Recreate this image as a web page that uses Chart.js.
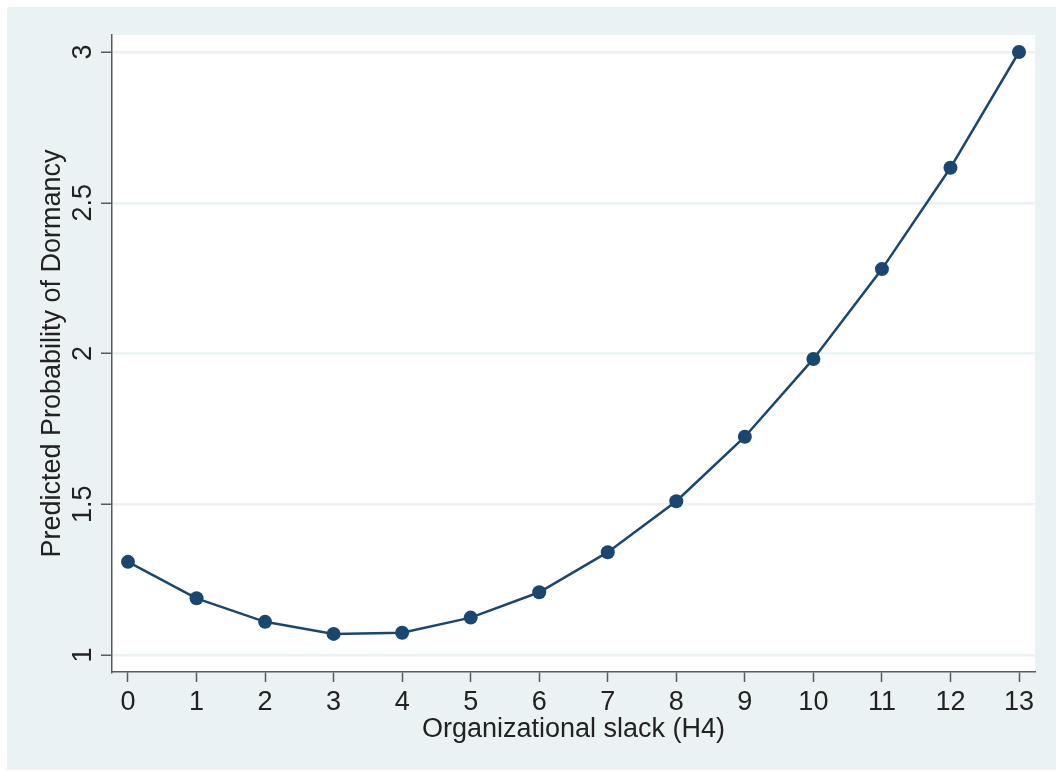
<!DOCTYPE html>
<html>
<head>
<meta charset="utf-8">
<script src="https://cdn.jsdelivr.net/npm/chart.js@4/dist/chart.umd.min.js"></script>
<style>
  html, body { margin: 0; padding: 0; background: #fff; }
  canvas { display: block; }
</style>
</head>
<body>
<canvas id="slackChart" width="1056" height="771"></canvas>
<script>
// values
const slack = [0, 1, 2, 3, 4, 5, 6, 7, 8, 9, 10, 11, 12, 13];
const dormancy = [1.309, 1.188, 1.110, 1.070, 1.074, 1.124, 1.208, 1.341, 1.510, 1.724, 1.982, 2.280, 2.616, 3.0];
const yTickValues = [1, 1.5, 2, 2.5, 3];
const yTickLabels = ['1', '1.5', '2', '2.5', '3'];

const navy = '#1A476F';
const bluishGray = '#EAF2F3';
const axisGray = '#5a5a5a';
const textColor = '#222222';
const fontFamily = '"Liberation Sans", Arial, sans-serif';

// backgrounds: graph region + white plot region
const backgrounds = {
  id: 'backgrounds',
  beforeDraw(chart) {
    const ctx = chart.ctx;
    const a = chart.chartArea;
    ctx.save();
    ctx.fillStyle = '#ffffff';
    ctx.fillRect(0, 0, chart.width, chart.height);
    ctx.fillStyle = bluishGray;
    ctx.fillRect(7, 7, chart.width - 7, chart.height - 8);
    ctx.fillStyle = '#ffffff';
    ctx.fillRect(a.left, a.top, a.right - a.left, a.bottom - a.top);
    ctx.restore();
  }
};

// Stata style y labels, rotated to read bottom-up
const rotatedYLabels = {
  id: 'rotatedYLabels',
  afterDraw(chart) {
    const ctx = chart.ctx;
    const y = chart.scales.y;
    ctx.save();
    ctx.fillStyle = textColor;
    ctx.font = '27px ' + fontFamily;
    ctx.textAlign = 'center';
    ctx.textBaseline = 'alphabetic';
    yTickValues.forEach((v, i) => {
      const py = y.getPixelForValue(v);
      ctx.save();
      ctx.translate(91, py);
      ctx.rotate(-Math.PI / 2);
      ctx.fillText(yTickLabels[i], 0, 0);
      ctx.restore();
    });
    ctx.restore();
  }
};

const ctx = document.getElementById('slackChart');
const chart = new Chart(ctx, {
  type: 'line',
  data: {
    datasets: [{
      label: 'Predicted Probability of Dormancy',
      data: slack.map((x, i) => ({ x: x, y: dormancy[i] })),
      borderColor: navy,
      backgroundColor: navy,
      borderWidth: 2.5,
      pointRadius: 7,
      pointHoverRadius: 7,
      pointBorderWidth: 0,
      tension: 0,
      fill: false
    }]
  },
  options: {
    responsive: false,
    animation: false,
    layout: { padding: { top: 35, right: 21, left: 0, bottom: 0 } },
    plugins: {
      legend: { display: false },
      tooltip: { enabled: false }
    },
    scales: {
      x: {
        type: 'linear',
        min: -0.2334,
        max: 13.2334,
        afterFit(scale) { scale.height = 99; },
        ticks: {
          stepSize: 1,
          includeBounds: false,
          padding: 4,
          color: textColor,
          font: { family: fontFamily, size: 27 },
          maxRotation: 0
        },
        grid: {
          display: true,
          drawOnChartArea: false,
          drawTicks: true,
          tickLength: 10,
          tickColor: axisGray,
          tickWidth: 1.5
        },
        border: { display: true, color: axisGray, width: 1.5 },
        title: {
          display: true,
          text: 'Organizational slack (H4)',
          color: textColor,
          font: { family: fontFamily, size: 27 },
          padding: { top: 0, bottom: 25 }
        }
      },
      y: {
        type: 'linear',
        min: 0.9436,
        max: 3.0564,
        afterFit(scale) { scale.width = 112; },
        ticks: {
          stepSize: 0.5,
          includeBounds: false,
          display: false
        },
        grid: {
          display: true,
          drawOnChartArea: true,
          color: bluishGray,
          lineWidth: 2.5,
          drawTicks: true,
          tickLength: 11,
          tickColor: axisGray,
          tickWidth: 1.5
        },
        border: { display: true, color: axisGray, width: 1.5 },
        title: {
          display: true,
          text: 'Predicted Probability of Dormancy',
          color: textColor,
          font: { family: fontFamily, size: 27 },
          padding: { top: 36, bottom: 0 }
        }
      }
    }
  },
  plugins: [backgrounds, rotatedYLabels]
});
</script>
</body>
</html>
